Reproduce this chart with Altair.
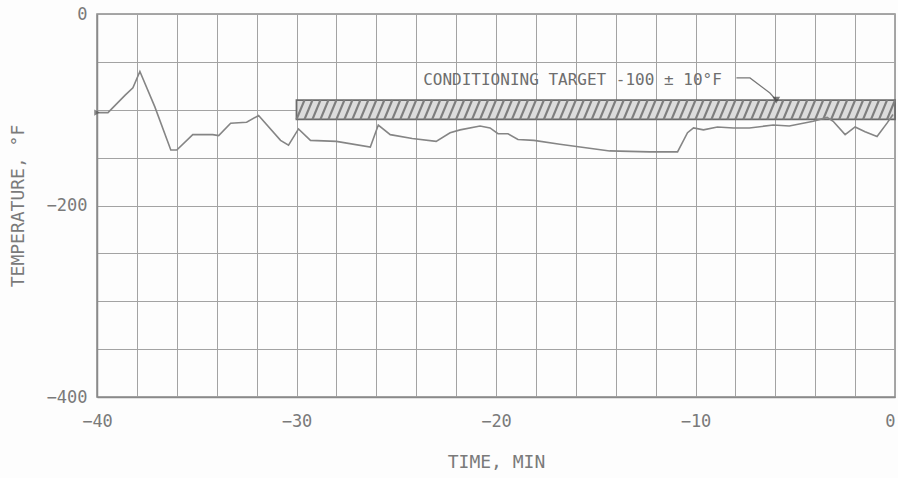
import altair as alt
import pandas as pd
import numpy as np

# Data
time_min = [-40, -39.45, -38.6, -38.2, -37.85, -37.1, -36.3, -36.0, -35.2, -34.2, -33.9,
            -33.3, -32.5, -31.9, -30.8, -30.4, -29.9, -29.3, -28.0, -26.3, -25.9, -25.3,
            -24.2, -23.0, -22.3, -21.8, -20.8, -20.3, -19.9, -19.4, -18.9, -18.1, -16.8,
            -14.3, -12.3, -10.9, -10.4, -10.1, -9.6, -8.9, -8.1, -7.3, -6.1, -5.3, -4.1,
            -3.4, -3.1, -2.5, -2.0, -1.5, -0.9, -0.4, -0.1]
temp_f = [-103, -103, -85, -77, -60, -97, -142, -142, -126, -126, -127,
          -114, -113, -106, -132, -137, -120, -132, -133, -139, -116, -126,
          -130, -133, -124, -121, -117, -119, -125, -125, -131, -132, -136,
          -143, -144, -144, -124, -119, -121, -118, -119, -119, -116, -117, -112,
          -108, -112, -126, -118, -123, -128, -114, -105]

band_start, band_end = -30, 0
band_low, band_high = -110, -90
annotation_text = "CONDITIONING TARGET -100 ± 10°F"
annotation_pos = [(-23.65, -69)]
leader_x = [-7.95, -7.27, -6.27, -5.95]
leader_y = [-66.8, -66.8, -82.5, -90]

x_ticks = list(range(-40, 1, 2))
y_ticks = list(range(-400, 1, 50))

FONT = "DejaVu Sans Mono"
TXT = "#7a7a7a"
LINE = "#858585"
GRID = "#a3a3a3"

df = pd.DataFrame({"t": time_min, "T": temp_f})
band = pd.DataFrame({"t": [band_start], "t2": [band_end], "T": [band_low], "T2": [band_high]})
hx = np.arange(band_start, band_end - 0.35, 0.4)
hatch = pd.DataFrame({"t": hx, "t2": hx + 0.4, "T": band_low, "T2": band_high})
ann = pd.DataFrame({"t": [annotation_pos[0][0]], "T": [annotation_pos[0][1]], "text": [annotation_text]})
leader = pd.DataFrame({"t": leader_x, "T": leader_y, "o": list(range(len(leader_x)))})

xscale = alt.Scale(domain=[-40, 0], nice=False, zero=False)
yscale = alt.Scale(domain=[-400, 0], nice=False, zero=False)

xax = alt.Axis(values=x_ticks, labelExpr="datum.value % 10 == 0 ? datum.label : ''",
               grid=True, ticks=False, labelFlush=False, labelOverlap=False,
               labelAlign={"condition": {"test": "datum.value == 0", "value": "right"},
                           "value": "center"},
               title="TIME, MIN", titleX=399, titleY=56, labelPadding=16)
yax = alt.Axis(values=y_ticks, labelExpr="datum.value % 200 == 0 ? datum.label : ''",
               grid=True, ticks=False, labelFlush=False, labelOverlap=False,
               title="TEMPERATURE, °F", titleX=-70, titleY=191.5, titleAlign="center",
               titleAngle=270, labelPadding=10)

X = alt.X("t:Q", scale=xscale, axis=xax, title="TIME, MIN")
Y = alt.Y("T:Q", scale=yscale, axis=yax, title="TEMPERATURE, °F")

band_rect = alt.Chart(band).mark_rect(fill="#dcdcdc", stroke="#6a6a6a", strokeWidth=1.8).encode(
    x=X, x2="t2:Q", y=Y, y2="T2:Q")

hatch_rules = alt.Chart(hatch).mark_rule(color="#7e7e7e", strokeWidth=2.2).encode(
    x=X, x2="t2:Q", y=Y, y2="T2:Q")

base_line = alt.Chart(df).mark_line(color=LINE, strokeWidth=1.6).encode(x=X, y=Y)

ann_text = alt.Chart(ann).mark_text(align="left", baseline="middle", font=FONT,
                                    fontSize=16, color="#6e6e6e").encode(
    x=X, y=Y, text="text:N")

leader_line = alt.Chart(leader).mark_line(color="#777777", strokeWidth=1.2).encode(
    x=X, y=Y, order="o:Q")

leader_head = alt.Chart(leader.tail(1)).mark_point(shape="triangle-down", filled=True,
                                                   size=60, color="#444444").encode(x=X, y=Y)

start_mark = alt.Chart(df.head(1)).mark_point(shape="triangle-right", filled=True,
                                              size=40, color="#555555").encode(x=X, y=Y)

chart = alt.layer(band_rect, hatch_rules, base_line, ann_text, leader_line, leader_head,
                  start_mark).properties(
    width=798, height=383,
    padding={"left": 97, "top": 14, "right": 3, "bottom": 81},
    autosize=alt.AutoSizeParams(type="none"),
    background="#fdfdfd",
).configure_view(stroke="#8a8a8a", strokeWidth=1.5).configure_axis(
    gridColor=GRID, gridWidth=1, domainColor="#8a8a8a", domainWidth=1.5,
    labelFont=FONT, labelFontSize=17, labelColor=TXT, labelFontWeight="normal",
    titleFont=FONT, titleFontSize=18, titleColor=TXT, titleFontWeight="normal",
)

chart.save("out.html", embed_options={"renderer": "svg", "actions": False})
